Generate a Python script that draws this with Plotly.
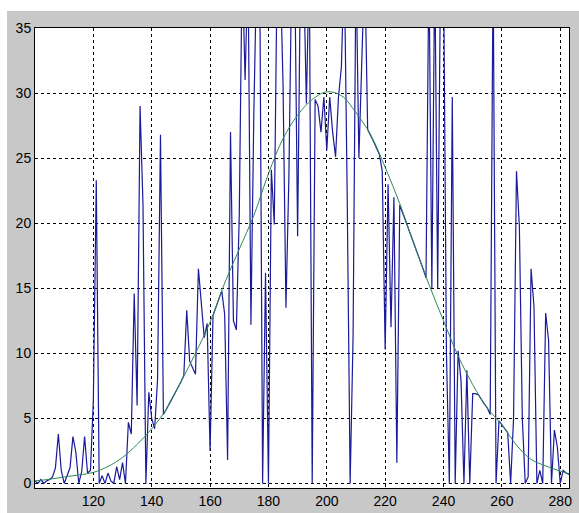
import plotly.graph_objects as go

# Noisy measured series (blue), one value per integer x from 100 to 283
x_start = 100
signal = [
    0.2, 0, 0.3, 0, 0.2, 0.3, 0.5, 1.2, 3.8, 1.0,          # 100-109
    0, 0.6, 1.2, 3.6, 2.4, 0, 0.9, 3.6, 0.8, 1.0,          # 110-119
    6.4, 23.3, 0, 0.6, 0, 0.8, 0.2, 0, 1.3, 0.3,           # 120-129
    1.6, 0, 4.7, 3.8, 14.6, 6.0, 29.0, 21.5, 0, 7.0,       # 130-139
    5.0, 4.2, 8.0, 26.8, 5.3, 5.7, 6.1, 6.5, 7.0, 7.4,     # 140-149
    7.8, 8.3, 13.3, 9.4, 8.9, 8.4, 16.5, 13.5, 11.2, 12.3, # 150-159
    2.5, 12.9, 13.5, 14.1, 14.8, 13.0, 1.8, 27.0, 12.5, 11.8,  # 160-169
    20.6, 40, 31.0, 40, 12.2, 28.5, 40, 40, 0, 16.2,       # 170-179
    0, 24.1, 19.9, 40, 40, 30.7, 13.5, 23.5, 40, 40,       # 180-189
    19.0, 40, 40, 29.2, 40, 0, 29.5, 29.0, 27.0, 29.7,     # 190-199
    25.6, 29.7, 27.0, 25.1, 29.7, 32.0, 40, 21.9, 0, 11.3, # 200-209
    40, 25.0, 33.0, 40, 27.2, 26.8, 26.3, 25.8, 25.3, 24.0,  # 210-219
    10.3, 23.0, 12.0, 22.0, 1.6, 21.4, 20.8, 20.1, 19.5, 18.9,  # 220-229
    18.3, 17.7, 17.1, 16.5, 15.8, 40, 15.0, 40, 15.0, 40,  # 230-239
    40, 10.0, 0, 29.7, 0, 10.2, 7.9, 0, 8.7, 0,            # 240-249
    6.9, 6.9, 6.8, 6.4, 6.1, 5.8, 5.3, 40, 0, 4.8,         # 250-259
    4.5, 4.2, 3.9, 0, 5.0, 24.0, 19.7, 5.0, 0, 0.5,        # 260-269
    16.5, 13.6, 0, 1.0, 0, 13.1, 11.0, 0, 4.1, 2.8,        # 270-279
    0, 1.0, 0.8, 0.7,                                      # 280-283
]
signal_x = list(range(x_start, x_start + len(signal)))

# Smooth fitted curve (green), read at coarser x positions
fit_x = [100, 105, 110, 115, 120, 125, 130, 135, 140, 145, 150, 155, 160,
         165, 170, 175, 180, 185, 190, 195, 200, 205, 210, 215, 220, 225,
         230, 235, 240, 245, 250, 255, 260, 265, 270, 275, 280, 283]
fit_y = [0.2, 0.32, 0.5, 0.65, 0.85, 1.3, 2.0, 3.0, 4.2, 5.7, 7.8, 10.0, 12.4,
         15.4, 18.0, 20.6, 23.8, 26.5, 28.3, 29.5, 30.1, 29.8, 28.5, 26.8, 24.3, 21.5,
         18.3, 15.3, 12.5, 9.8, 7.6, 5.8, 4.5, 2.95, 1.85, 1.35, 0.95, 0.75]

x_ticks = [120, 140, 160, 180, 200, 220, 240, 260, 280]
y_ticks = [0, 5, 10, 15, 20, 25, 30, 35]

fig = go.Figure()
fig.add_trace(go.Scatter(x=signal_x, y=signal, mode="lines",
                         line=dict(color="#1a1a9a", width=1.2), showlegend=False,
                         hoverinfo="skip"))
fig.add_trace(go.Scatter(x=fit_x, y=fit_y, mode="lines",
                         line=dict(color="#2e8a55", width=1, shape="spline"),
                         showlegend=False, hoverinfo="skip"))

axis_common = dict(showgrid=True, gridcolor="black", griddash="3px,3px", gridwidth=1,
                   showline=True, linecolor="black", linewidth=1, mirror=True,
                   zeroline=False, ticks="", automargin=False,
                   tickfont=dict(family="Liberation Sans, Arial, sans-serif", size=14, color="black"))

fig.update_xaxes(range=[100, 283], tickvals=x_ticks, ticktext=[str(v) for v in x_ticks],
                 **axis_common)
fig.update_yaxes(range=[-0.35, 35], tickvals=y_ticks, ticktext=[str(v) for v in y_ticks],
                 **axis_common)

fig.update_layout(
    width=579, height=513,
    margin=dict(l=35, r=10, t=28, b=25),
    paper_bgcolor="#c8c8c8", plot_bgcolor="white",
    hovermode=False,
    shapes=[
        dict(type="rect", xref="paper", yref="paper", x0=-0.1, x1=1.1,
             y0=1 + 17 / 460, y1=1.2, fillcolor="white", line=dict(width=0), layer="above"),
        dict(type="rect", xref="paper", yref="paper", x0=-0.2, x1=-28 / 534,
             y0=-0.2, y1=1.2, fillcolor="white", line=dict(width=0), layer="above"),
    ],
)

fig.write_html(
    "out.html",
    config={"displayModeBar": False, "staticPlot": True},
    post_script="document.body.style.margin='0';document.body.style.overflow='hidden';",
)
